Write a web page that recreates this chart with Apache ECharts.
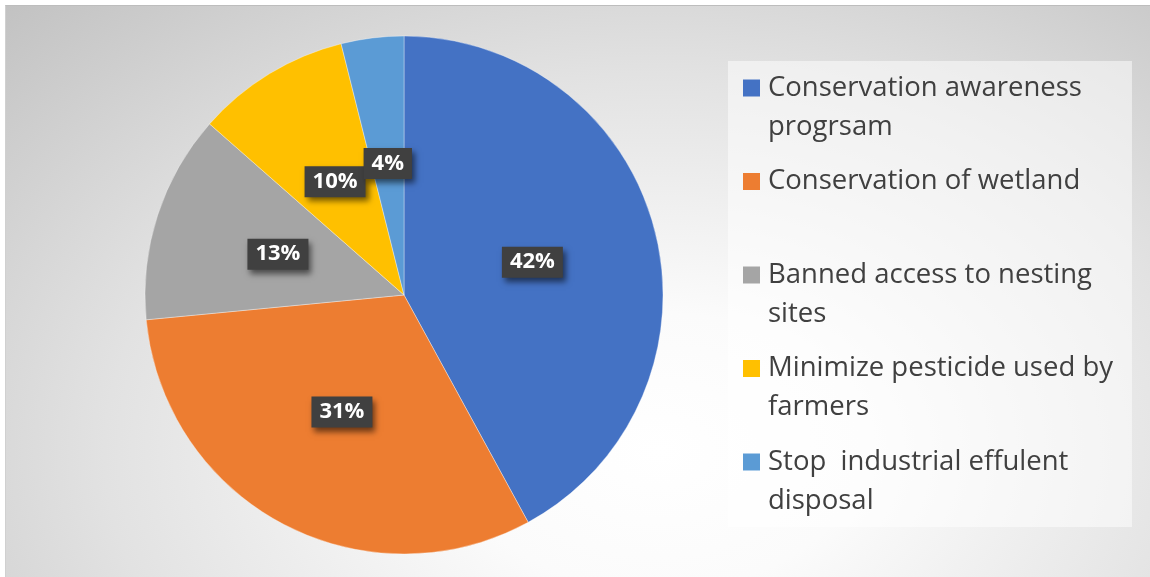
<!DOCTYPE html>
<html>
<head>
<meta charset="utf-8">
<script src="https://cdn.jsdelivr.net/npm/echarts@6/dist/echarts.min.js"></script>
<style>
  html, body { margin: 0; padding: 0; background: #fff; }
  #chart {
    position: absolute;
    left: 5px;
    top: 5px;
    width: 1145px;
    height: 572px;
    border-top: 1px solid #bdbdbd;
    border-left: 1px solid #d0d0d0;
    box-sizing: border-box;
    background: radial-gradient(ellipse farthest-corner at 57% 78%, #ffffff 0%, #fbfbfb 22%, #e2e2e2 60%, #c2c2c2 100%);
  }
</style>
</head>
<body>
<div id="chart"></div>
<script>
const categories = [
  'Conservation awareness progrsam',
  'Conservation of wetland',
  'Banned access to nesting sites',
  'Minimize pesticide used by farmers',
  'Stop  industrial effulent disposal'
]
// shares
const values = [42.0, 31.4, 13.0, 9.6, 3.9]
const colors = ['#4472c4', '#ed7d31', '#a5a5a5', '#ffc000', '#5b9bd5']

const legendFont = '27.5px "Open Sans"'
const legendWidth = 369

// greedy word wrap so the legend breaks like the original
const ctx = document.createElement('canvas').getContext('2d')
ctx.font = legendFont
function wrap(text) {
  const words = text.split(' ')
  const lines = []
  let cur = ''
  words.forEach(w => {
    const next = cur === '' ? w : cur + ' ' + w
    if (cur !== '' && ctx.measureText(next).width > 355) {
      lines.push(cur)
      cur = w
    } else {
      cur = next
    }
  })
  lines.push(cur)
  return lines
}

const rich = {
  sp: { width: 8, lineHeight: 39 },
  ind: { width: 25, lineHeight: 39 }
}
colors.forEach((c, i) => {
  rich['sq' + i] = { width: 17, height: 17, backgroundColor: c, verticalAlign: 'middle', lineHeight: 39 }
})

const chart = echarts.init(document.getElementById('chart'))
chart.setOption({
  animation: false,
  color: colors,
  legend: {
    orient: 'vertical',
    left: 722,
    top: 55,
    padding: [7.5, 19, 6.5, 10],
    itemGap: 15.5,
    itemWidth: 0,
    itemHeight: 14,
    icon: 'none',
    backgroundColor: 'rgba(255,255,255,0.5)',
    selectedMode: false,
    data: categories,
    formatter: function (name) {
      const i = categories.indexOf(name)
      const lines = wrap(name)
      if (lines.length < 2) lines.push('')
      return '{sq' + i + '| }{sp| }' + lines[0] + '\n{ind| }' + lines.slice(1).join('\n{ind| }')
    },
    textStyle: {
      fontFamily: 'Open Sans',
      fontSize: 27.5,
      color: '#404040',
      lineHeight: 39,
      width: legendWidth,
      rich: rich
    }
  },
  series: [
    {
      type: 'pie',
      center: [398, 289],
      radius: 259,
      startAngle: 90,
      clockwise: true,
      avoidLabelOverlap: false,
      minShowLabelAngle: 0,
      labelLayout: { hideOverlap: false },
      emphasis: { disabled: true },
      itemStyle: {
        borderColor: 'rgba(255,255,255,0.35)',
        borderWidth: 1
      },
      label: {
        show: true,
        position: 'inside',
        formatter: p => Math.round(p.percent) + '%',
        fontFamily: 'Open Sans',
        fontWeight: 'bold',
        fontSize: 22,
        color: '#ffffff',
        backgroundColor: '#404040',
        padding: [5, 8, 4, 8],
        shadowColor: 'rgba(0,0,0,0.55)',
        shadowBlur: 6,
        shadowOffsetX: 3,
        shadowOffsetY: 4
      },
      labelLine: { show: false },
      data: categories.map((name, i) => ({ name: name, value: values[i] }))
    }
  ]
})
</script>
</body>
</html>
